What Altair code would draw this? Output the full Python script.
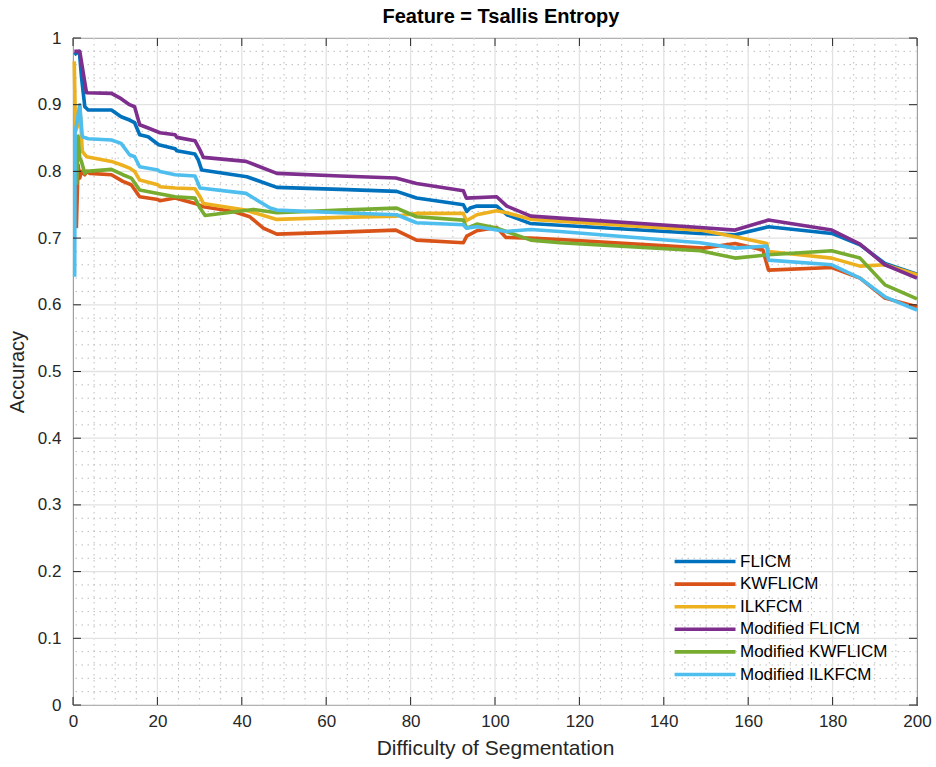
import altair as alt
import pandas as pd

# Series names and MATLAB default line colours
series_names = ["FLICM", "KWFLICM", "ILKFCM", "Modified FLICM", "Modified KWFLICM", "Modified ILKFCM"]
series_colors = ["#0072BD", "#D95319", "#EDB120", "#7E2F8E", "#77AC30", "#4DBEEE"]

flicm_x = [0.3, 1.5, 2.0, 2.8, 3.6, 9.1, 11.4, 13.4, 14.6, 15.8, 17.8, 20.3, 24.2, 24.6, 28.9, 29.7, 30.5,
           41.2, 48.3, 63.3, 76.7, 81.4, 92.5, 93.3, 94.1, 95.7, 100.4, 102.8, 108.3, 148.6, 156.9, 164.8,
           179.8, 186.5, 192.4, 200]
flicm_y = [0.975, 0.98, 0.942, 0.897, 0.892, 0.892, 0.882, 0.877, 0.873, 0.855, 0.852, 0.840, 0.834, 0.831,
           0.826, 0.817, 0.802, 0.792, 0.776, 0.773, 0.770, 0.760, 0.750, 0.740, 0.745, 0.748, 0.748, 0.735,
           0.722, 0.707, 0.705, 0.717, 0.707, 0.690, 0.662, 0.646]

kwflicm_x = [0.8, 1.2, 1.6, 2.0, 2.8, 3.2, 4.0, 9.1, 11.8, 13.8, 15.8, 20.1, 20.6, 24.2, 28.9, 30.9, 38.0,
             41.9, 45.1, 48.3, 63.3, 76.5, 81.4, 92.5, 93.3, 95.7, 100.4, 102.6, 108.3, 115.4, 149.4, 156.9,
             163.5, 164.8, 179.8, 186.5, 192.4, 200]
kwflicm_y = [0.715, 0.81, 0.79, 0.80, 0.795, 0.80, 0.797, 0.795, 0.785, 0.780, 0.762, 0.758, 0.756, 0.760,
             0.752, 0.747, 0.740, 0.732, 0.715, 0.706, 0.709, 0.712, 0.697, 0.693, 0.703, 0.711, 0.716, 0.701,
             0.700, 0.698, 0.685, 0.692, 0.682, 0.652, 0.656, 0.640, 0.610, 0.597]

ilkfcm_x = [0.3, 0.6, 1.2, 1.6, 2.2, 3.2, 9.1, 11.4, 13.4, 14.6, 15.8, 20.1, 20.6, 24.2, 28.9, 30.1, 30.9,
            40.8, 48.3, 63.3, 76.7, 81.4, 92.5, 93.2, 95.7, 100.4, 102.8, 108.7, 148.6, 156.9, 164.4, 164.8,
            179.8, 186.5, 192.4, 200]
ilkfcm_y = [0.965, 0.86, 0.87, 0.90, 0.83, 0.822, 0.815, 0.810, 0.805, 0.800, 0.787, 0.780, 0.777, 0.775,
            0.774, 0.762, 0.752, 0.742, 0.728, 0.731, 0.733, 0.737, 0.737, 0.726, 0.735, 0.741, 0.738, 0.728,
            0.712, 0.702, 0.692, 0.680, 0.670, 0.658, 0.660, 0.645]

mod_flicm_x = [0.3, 1.6, 3.2, 9.1, 11.4, 13.4, 14.6, 15.8, 17.8, 20.6, 24.2, 24.6, 28.9, 30.1, 30.9, 41.0,
               48.3, 63.3, 76.5, 81.4, 92.5, 93.2, 100.4, 102.8, 108.5, 115.4, 148.6, 156.9, 164.8, 179.8,
               186.5, 192.4, 200]
mod_flicm_y = [0.98, 0.98, 0.918, 0.917, 0.909, 0.900, 0.897, 0.870, 0.865, 0.858, 0.855, 0.851, 0.846,
               0.832, 0.821, 0.815, 0.797, 0.793, 0.790, 0.782, 0.771, 0.760, 0.762, 0.748, 0.733, 0.730,
               0.716, 0.712, 0.727, 0.712, 0.691, 0.660, 0.640]

mod_kwflicm_x = [0.9, 1.2, 1.6, 2.0, 2.8, 3.2, 9.1, 11.8, 13.8, 15.8, 20.1, 24.2, 28.9, 30.1, 31.3, 42.7,
                 48.3, 63.3, 76.7, 81.4, 92.5, 93.3, 95.7, 100.4, 108.5, 115.4, 148.6, 156.9, 164.8, 179.8,
                 186.5, 192.4, 200]
mod_kwflicm_y = [0.78, 0.853, 0.82, 0.815, 0.797, 0.800, 0.803, 0.795, 0.790, 0.772, 0.767, 0.762, 0.760,
                 0.745, 0.734, 0.743, 0.738, 0.742, 0.745, 0.732, 0.727, 0.715, 0.721, 0.715, 0.697, 0.693,
                 0.681, 0.670, 0.675, 0.681, 0.670, 0.630, 0.609]

mod_ilkfcm_x = [0.4, 0.5, 1.0, 1.6, 2.2, 3.6, 9.1, 11.4, 13.4, 14.6, 15.8, 20.1, 20.6, 24.2, 28.9, 30.1,
                41.0, 46.7, 48.3, 63.3, 76.7, 81.4, 92.5, 93.2, 95.7, 102.6, 108.5, 115.4, 148.6, 156.9,
                164.4, 164.8, 179.8, 186.5, 192.4, 200]
mod_ilkfcm_y = [0.642, 0.86, 0.875, 0.90, 0.852, 0.849, 0.847, 0.842, 0.825, 0.822, 0.807, 0.802, 0.800,
                0.795, 0.793, 0.775, 0.767, 0.745, 0.742, 0.738, 0.735, 0.723, 0.720, 0.715, 0.717, 0.710,
                0.713, 0.710, 0.693, 0.685, 0.688, 0.667, 0.660, 0.640, 0.612, 0.592]

series_x = [flicm_x, kwflicm_x, ilkfcm_x, mod_flicm_x, mod_kwflicm_x, mod_ilkfcm_x]
series_y = [flicm_y, kwflicm_y, ilkfcm_y, mod_flicm_y, mod_kwflicm_y, mod_ilkfcm_y]

# Tick and grid positions
x_major = list(range(0, 201, 20))
y_major = [round(i * 0.1, 1) for i in range(11)]
x_minor = [v for v in range(0, 201, 5) if v % 20 != 0]
y_minor = [round(i * 0.02, 2) for i in range(51) if i % 5 != 0]

W, H = 844, 667
FONT = "Liberation Sans"

xscale = alt.Scale(domain=[0, 200], nice=False, zero=False)
yscale = alt.Scale(domain=[0, 1], nice=False, zero=False)
color_scale = alt.Scale(domain=series_names, range=series_colors)

# One shared axis definition per channel, used by every layer
x_axis = alt.Axis(values=x_major, title="Difficulty of Segmentation", format="d",
                  labelFlush=False, titleFontSize=21)
y_axis = alt.Axis(values=y_major, title="Accuracy", format=".1~f",
                  labelFlush=False, labelPadding=12, titleFontSize=20)


def xenc(field):
    return alt.X(field, scale=xscale, axis=x_axis)


def yenc(field):
    return alt.Y(field, scale=yscale, axis=y_axis)


# Grid lines: dotted minor, solid light major
minor_x = alt.Chart(pd.DataFrame({"v": x_minor})).mark_rule(
    color="#bcbcbc", strokeWidth=1, strokeDash=[1.5, 4.5]
).encode(x=xenc("v:Q"))
minor_y = alt.Chart(pd.DataFrame({"v": y_minor})).mark_rule(
    color="#bcbcbc", strokeWidth=1, strokeDash=[1.5, 4.5]
).encode(y=yenc("v:Q"))
major_x = alt.Chart(pd.DataFrame({"v": x_major})).mark_rule(
    color="#e2e2e2", strokeWidth=1.3
).encode(x=xenc("v:Q"))
major_y = alt.Chart(pd.DataFrame({"v": y_major})).mark_rule(
    color="#e2e2e2", strokeWidth=1.3
).encode(y=yenc("v:Q"))

# Legend with long horizontal line samples (custom path, wider than its size box)
sym_box = 11.6
legend = alt.Legend(
    title=None, orient="none", legendX=625, legendY=515,
    symbolType="M-5.5,0H5", symbolSize=sym_box * sym_box, symbolStrokeWidth=3.6,
    labelFont=FONT, labelFontSize=17, labelColor="#000000",
    rowPadding=4.6, labelOffset=25, padding=0,
)

# Accuracy curves, drawn in legend order so later series sit on top
line_layers = []
for i, name in enumerate(series_names):
    df = pd.DataFrame({"x": series_x[i], "y": series_y[i], "series": name})
    layer = alt.Chart(df).mark_line(strokeWidth=3.6, strokeJoin="round").encode(
        x=xenc("x:Q"),
        y=yenc("y:Q"),
        color=alt.Color("series:N", scale=color_scale, legend=legend),
    )
    line_layers.append(layer)

# Inward tick marks on all four sides of the box
tick_len = 8
ticks_bottom = alt.Chart(pd.DataFrame({"v": x_major})).mark_rule(color="#262626", strokeWidth=1).encode(
    x=xenc("v:Q"), y=alt.value(H), y2=alt.value(H - tick_len))
ticks_top = alt.Chart(pd.DataFrame({"v": x_major})).mark_rule(color="#262626", strokeWidth=1).encode(
    x=xenc("v:Q"), y=alt.value(0), y2=alt.value(tick_len))
ticks_left = alt.Chart(pd.DataFrame({"v": y_major})).mark_rule(color="#262626", strokeWidth=1).encode(
    y=yenc("v:Q"), x=alt.value(0), x2=alt.value(tick_len))
ticks_right = alt.Chart(pd.DataFrame({"v": y_major})).mark_rule(color="#262626", strokeWidth=1).encode(
    y=yenc("v:Q"), x=alt.value(W), x2=alt.value(W - tick_len))

chart = alt.layer(
    minor_x, minor_y, major_x, major_y, *line_layers,
    ticks_bottom, ticks_top, ticks_left, ticks_right,
).properties(
    width=W, height=H,
    background="white",
    title=alt.Title("Feature = Tsallis Entropy", font=FONT, fontSize=20, fontWeight="bold",
                    color="#000000", anchor="middle", offset=2, dx=6),
    autosize=alt.AutoSizeParams(type="none"),
    padding={"left": 73, "top": 38, "right": 19, "bottom": 62},
).configure_view(
    stroke="#262626", strokeWidth=1
).configure_axis(
    domain=False, ticks=False, grid=False,
    labelFont=FONT, labelFontSize=17, labelColor="#262626", labelPadding=8,
    titleFont=FONT, titleFontWeight="normal", titleColor="#262626",
).configure_axisX(
    titlePadding=8
).configure_axisY(
    titlePadding=10
)

chart.save("out.html", embed_options={"renderer": "svg", "actions": False})
